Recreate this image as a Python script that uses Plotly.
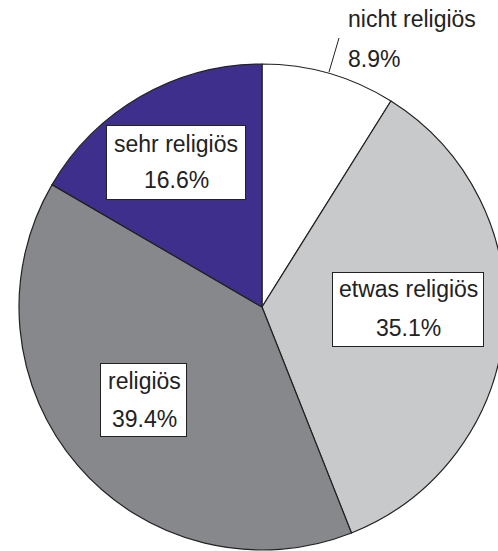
import plotly.graph_objects as go

categories = ["nicht religiös", "etwas religiös", "religiös", "sehr religiös"]
values = [8.9, 35.1, 39.4, 16.6]
colors = ["#ffffff", "#c8c9cb", "#87888c", "#3f2f8c"]

W, H = 506, 551
cx, cy, r = 262, 307, 243  # pixel geometry of the pie

fig = go.Figure(go.Pie(
    labels=categories,
    values=values,
    sort=False,
    direction="clockwise",
    rotation=0,
    marker=dict(colors=colors, line=dict(color="#222222", width=1.2)),
    textinfo="none",
    hoverinfo="label+percent",
    showlegend=False,
    domain=dict(x=[(cx - r) / W, (cx + r) / W], y=[(H - cy - r) / H, (H - cy + r) / H]),
))

font = dict(family="Liberation Sans, Arial, sans-serif", size=23, color="#222222")


def px2paper(px, py):
    return px / W, 1 - py / H


# boxed labels: (index, box left, box top, box right, box bottom, text x center, line1 y, line2 y)
boxed = [
    (1, 332, 272, 484, 347, 408, 289, 328),
    (2, 100, 363, 187, 437, 144, 381, 419),
    (3, 106, 125, 246, 200, 176, 144, 180),
]
for i, x0, y0, x1, y1, tx, l1, l2 in boxed:
    bx, by = px2paper((x0 + x1) / 2, (y0 + y1) / 2)
    fig.add_annotation(
        x=bx, y=by, xref="paper", yref="paper", text=" ", showarrow=False,
        width=x1 - x0 - 2, height=y1 - y0 - 2, borderpad=0,
        bgcolor="white", bordercolor="#222222", borderwidth=1,
        xanchor="center", yanchor="middle",
    )
    for txt, ly in ((categories[i], l1), (f"{values[i]:.1f}%", l2)):
        ax, ay = px2paper(tx, ly)
        fig.add_annotation(x=ax, y=ay, xref="paper", yref="paper", text=txt,
                           showarrow=False, font=font,
                           xanchor="center", yanchor="middle")

# outside label for nicht religiös
for txt, ly in ((categories[0], 19), (f"{values[0]:.1f}%", 59)):
    ax, ay = px2paper(346, ly)
    fig.add_annotation(x=ax, y=ay, xref="paper", yref="paper", text=txt,
                       showarrow=False, font=font, xanchor="left", yanchor="middle")

lx0, ly0 = px2paper(339, 38)
lx1, ly1 = px2paper(329, 72)
fig.add_shape(type="line", xref="paper", yref="paper",
              x0=lx0, y0=ly0, x1=lx1, y1=ly1,
              line=dict(color="#222222", width=1))

fig.update_layout(
    width=W, height=H,
    margin=dict(l=0, r=0, t=0, b=0),
    paper_bgcolor="white", plot_bgcolor="white",
)

fig.write_html("out.html", config={"displayModeBar": False},
               post_script="document.body.style.margin='0';document.body.style.overflow='hidden';")
